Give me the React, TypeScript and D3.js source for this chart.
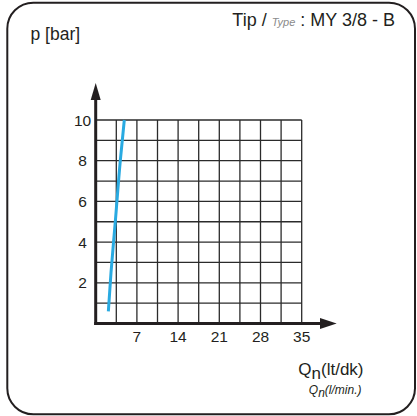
import React from "react";
import * as d3 from "d3";

const xTicks = [7, 14, 21, 28, 35];
const yTicks = [2, 4, 6, 8, 10];
const flowValues = [2.15, 2.6, 3.33, 4.18, 4.86];
const pressureValues = [0.6, 2.5, 5, 8, 10];

const W = 417;
const H = 416;

export default function App() {
  const x = d3.scaleLinear().domain([0, 35]).range([95.7, 301.7]);
  const y = d3.scaleLinear().domain([0, 10]).range([323.5, 120]);
  const gridX = d3.range(0, 36, 3.5);
  const gridY = d3.range(0, 11, 1);
  const pts = flowValues.map((f, i) => [f, pressureValues[i]] as [number, number]);
  const line = d3
    .line<[number, number]>()
    .x((d) => x(d[0]))
    .y((d) => y(d[1]))
    .curve(d3.curveMonotoneY);
  const font = "Liberation Sans, Arial, sans-serif";
  const x0 = x(0);
  const y0 = y(0);
  return (
    <div style={{ position: "fixed", left: 0, top: 0 }}>
      <svg width={W} height={H} style={{ display: "block" }} fontFamily={font}>
        <rect x={0} y={0} width={W} height={H} fill="#fff" />
        <rect x={7.3} y={2.7} width={407.7} height={411.6} rx={26} ry={26} fill="none" stroke="#231f20" strokeWidth={2} />
        {/* grid */}
        {gridX.map((g, i) => (
          <line key={"gx" + i} x1={x(g)} x2={x(g)} y1={y(10)} y2={y0} stroke="#2b2b2b" strokeWidth={1.3} />
        ))}
        {gridY.map((g, i) => (
          <line key={"gy" + i} x1={x0} x2={x(35)} y1={y(g)} y2={y(g)} stroke="#2b2b2b" strokeWidth={1.3} />
        ))}
        {/* curve */}
        <path d={line(pts) || ""} fill="none" stroke="#29aae1" strokeWidth={3} strokeLinecap="butt" />
        {/* axes */}
        <line x1={x0} x2={x0} y1={y0 + 1.5} y2={98} stroke="#231f20" strokeWidth={3} />
        <path d={`M${x0},83 L${x0 + 5},100 L${x0 - 5},100 Z`} fill="#231f20" />
        <line x1={x0 - 1.5} x2={322} y1={y0} y2={y0} stroke="#231f20" strokeWidth={3} />
        <path d={`M336.7,${y0} L320,${y0 - 5.5} L320,${y0 + 5.5} Z`} fill="#231f20" />
        {/* tick labels */}
        {xTicks.map((t) => (
          <text key={"xt" + t} x={x(t)} y={342} textAnchor="middle" fontSize={15.5} fill="#231f20">
            {t}
          </text>
        ))}
        {yTicks.map((t) => (
          <text key={"yt" + t} x={82.5} y={y(t) + 5.6} textAnchor="middle" fontSize={15.5} fill="#231f20">
            {t}
          </text>
        ))}
        {/* labels */}
        <text x={30.5} y={40} fontSize={17.5} fill="#231f20">p [bar]</text>
        <text x={395} y={26} textAnchor="end" fontSize={18} fill="#231f20">
          <tspan>Tip / </tspan>
          <tspan fontStyle="italic" fontSize={11} fill="#8a8a8a">Type</tspan>
          <tspan> : MY 3/8 - B</tspan>
        </text>
        <text x={363.5} y={375} textAnchor="end" fontSize={17} fill="#231f20">
          <tspan>Q</tspan>
          <tspan dy={4}>n</tspan>
          <tspan dy={-4}>(lt/dk)</tspan>
        </text>
        <text x={361.5} y={394} textAnchor="end" fontSize={12} fontStyle="italic" fill="#231f20">
          <tspan>Q</tspan>
          <tspan dy={3}>n</tspan>
          <tspan dy={-3}>(l/min.)</tspan>
        </text>
      </svg>
    </div>
  );
}
